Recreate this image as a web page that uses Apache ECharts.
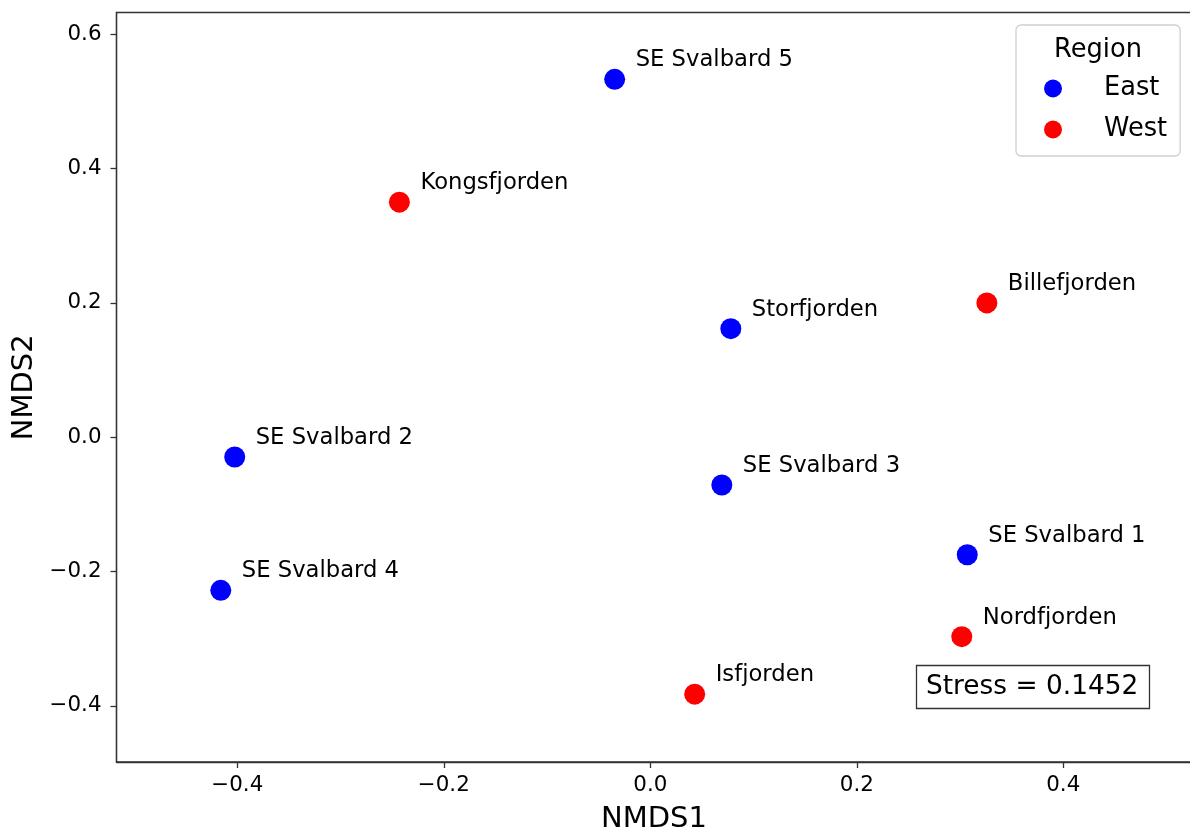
<!DOCTYPE html>
<html>
<head>
<meta charset="utf-8">
<title>NMDS ordination of Svalbard fjords</title>
<script src="https://cdn.jsdelivr.net/npm/echarts@6/dist/echarts.min.js"></script>
<style>
  html, body { margin: 0; padding: 0; background: #fff; }
  #chart { width: 1190px; height: 832px; }
</style>
</head>
<body>
<div id="chart"></div>
<script>
// Site scores on the first two NMDS axes, grouped by region
const eastSites = ['SE Svalbard 1', 'SE Svalbard 2', 'SE Svalbard 3', 'SE Svalbard 4', 'SE Svalbard 5', 'Storfjorden'];
const eastNMDS1 = [0.307, -0.4025, 0.0693, -0.416, -0.0345, 0.078];
const eastNMDS2 = [-0.175, -0.0295, -0.0712, -0.228, 0.533, 0.1616];

const westSites = ['Billefjorden', 'Isfjorden', 'Kongsfjorden', 'Nordfjorden'];
const westNMDS1 = [0.326, 0.043, -0.243, 0.3017];
const westNMDS2 = [0.200, -0.3827, 0.350, -0.297];

const xTicks = [-0.4, -0.2, 0.0, 0.2, 0.4];
const yTicks = [-0.4, -0.2, 0.0, 0.2, 0.4, 0.6];
const stressText = 'Stress = 0.1452';

const FONT = 'DejaVu Sans';
const AXIS_COLOR = '#333';

function fmtTick(v) {
  return (v < -1e-9 ? '\u2212' : '') + Math.abs(v).toFixed(1);
}

function sitePoints(names, xs, ys) {
  return names.map((n, i) => ({ name: n, value: [xs[i], ys[i]] }));
}

const siteLabel = {
  show: true,
  formatter: '{b}',
  position: [31.5, -8.5],
  align: 'left',
  verticalAlign: 'middle',
  fontFamily: FONT,
  fontSize: 22.7,
  color: '#000'
};

function axisCommon(ticks) {
  return {
    type: 'value',
    splitLine: { show: false },
    axisLine: { show: true, onZero: false, lineStyle: { color: AXIS_COLOR, width: 1.3 } },
    axisTick: { show: true, length: 6, customValues: ticks, lineStyle: { color: AXIS_COLOR, width: 1.3 } },
    axisLabel: {
      customValues: ticks,
      formatter: fmtTick,
      fontFamily: FONT,
      fontSize: 21.4,
      color: '#000'
    },
    nameLocation: 'middle',
    nameTextStyle: { fontFamily: FONT, fontSize: 29, color: '#000' }
  };
}

const xAxis = axisCommon(xTicks);
xAxis.min = -0.517;
xAxis.max = 0.5242;
xAxis.name = 'NMDS1';
xAxis.nameGap = 43;
xAxis.axisLabel.margin = 13;

const yAxis = axisCommon(yTicks);
yAxis.min = -0.4837;
yAxis.max = 0.6325;
yAxis.name = 'NMDS2';
yAxis.nameGap = 72;
yAxis.axisLabel.margin = 15;

const chart = echarts.init(document.getElementById('chart'), null, { renderer: 'canvas' });

chart.setOption({
  animation: false,
  backgroundColor: '#fff',
  grid: {
    left: 116.5,
    top: 12.5,
    right: -1.5,
    bottom: 70,
    containLabel: false,
    outerBoundsMode: 'none',
    show: true,
    borderColor: AXIS_COLOR,
    borderWidth: 1.3,
    backgroundColor: 'transparent'
  },
  xAxis: xAxis,
  yAxis: yAxis,
  legend: {
    left: 1016,
    top: 25,
    orient: 'vertical',
    selectedMode: false,
    data: ['East', 'West'],
    icon: 'circle',
    itemWidth: 18,
    itemHeight: 18,
    itemGap: 15,
    padding: [50.5, 13, 13.5, 28],
    backgroundColor: 'rgba(255,255,255,0.8)',
    borderColor: '#d0d0d0',
    borderWidth: 1.3,
    borderRadius: 5,
    textStyle: {
      fontFamily: FONT,
      fontSize: 25.7,
      lineHeight: 25,
      color: '#000',
      padding: [0, 0, 0, 37]
    }
  },
  graphic: [
    {
      type: 'text',
      z: 100,
      x: 1098,
      y: 50.5,
      style: {
        text: 'Region',
        fontFamily: FONT,
        fontSize: 25.7,
        fill: '#000',
        align: 'center',
        verticalAlign: 'middle'
      }
    },
    {
      type: 'rect',
      z: 100,
      shape: { x: 916.5, y: 665.5, width: 233, height: 43 },
      style: { fill: '#fff', stroke: AXIS_COLOR, lineWidth: 1.3 }
    },
    {
      type: 'text',
      z: 101,
      x: 926,
      y: 687,
      style: {
        text: stressText,
        fontFamily: FONT,
        fontSize: 26.4,
        fill: '#000',
        align: 'left',
        verticalAlign: 'middle'
      }
    }
  ],
  series: [
    {
      name: 'East',
      type: 'scatter',
      symbol: 'circle',
      symbolSize: 21,
      itemStyle: { color: '#0000ff', opacity: 1 },
      label: siteLabel,
      data: sitePoints(eastSites, eastNMDS1, eastNMDS2)
    },
    {
      name: 'West',
      type: 'scatter',
      symbol: 'circle',
      symbolSize: 21,
      itemStyle: { color: '#ff0000', opacity: 1 },
      label: siteLabel,
      data: sitePoints(westSites, westNMDS1, westNMDS2)
    }
  ]
});
</script>
</body>
</html>
